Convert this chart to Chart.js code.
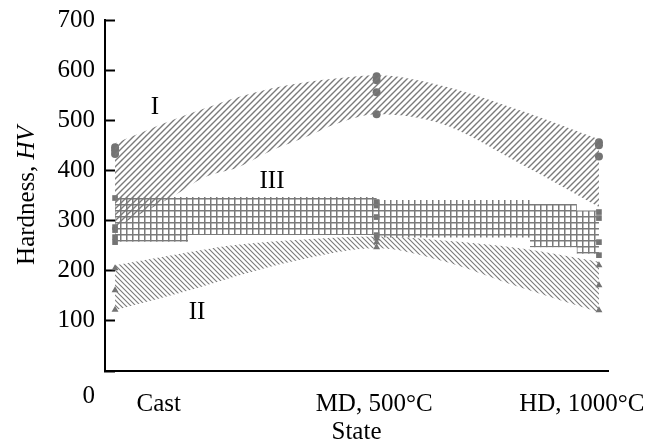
<!DOCTYPE html>
<html>
<head>
<meta charset="utf-8">
<script src="https://cdn.jsdelivr.net/npm/chart.js@4.4.0/dist/chart.umd.min.js"></script>
<style>
html,body{margin:0;padding:0;background:#fff}
#wrap{width:661px;height:447px}
</style>
</head>
<body>
<div id="wrap"><canvas id="myChart"></canvas></div>
<script>
// state axis runs 0..100 across the plot
const stateTicks=[10.7,53.5,94.8]
const stateLabels=['Cast','MD, 500°C','HD, 1000°C']
const statePos=[2,54,98.2]   // where the measurements sit (Cast, MD, HD)

// band I (upper region)
const bandIx=[2,13.3,19.9,26.4,33.2,39.8,46.3,54,66.6,82.5,98.2]
const bandIup=[454,500,524,546,564,576,584,590,570,520,462]
const bandIlo=[287,347,387,406,440,466,494,512,494,414,327]

// band II (lower region)
const bandIIx=[2,18.9,25.4,38.8,54,66.6,82.5,98.2]
const bandIIup=[211,241,251,262,268,261,245,218]
const bandIIlo=[121,167,187,222,245,221,167,117]

// band III (stepped middle region)
const bandIIIx=[2,16.5,54,84.5,93.8,98.2]
const bandIIItop=[347,347,341,333,320,320]
const bandIIIbot=[258,271,266,247,234,234]

// measured points per state: Cast, MD, HD
const ptsI=[[446,440,433],[588,580,556,512],[456,450,428]]
const ptsII=[[205,161,122],[264,257,247],[211,171,121]]
const ptsIII=[[345,287,281,267,257],[337,330,307,271],[317,305,257,231]]

// region names
const names=['I','II','III']
const nameX=[9.9,18.3,33.2]
const nameY=[525,116,379]

const grey='#737373'
const hatchGrey='#7a7a7a'

function hatch(kind){
    let p=kind=='grid'?6:(kind=='fwd'?6:5)
    let c=document.createElement('canvas')
    c.width=p;c.height=p
    let g=c.getContext('2d')
    g.strokeStyle=hatchGrey
    g.fillStyle=hatchGrey
    if(kind=='grid'){
        g.fillRect(0,0,p,1.5)
        g.fillRect(0,0,1.5,p)
    }else if(kind=='fwd'){
        g.lineWidth=1.4
        g.beginPath()
        g.moveTo(0,p);g.lineTo(p,0)
        g.moveTo(-1,1);g.lineTo(1,-1)
        g.moveTo(p-1,p+1);g.lineTo(p+1,p-1)
        g.stroke()
    }else{
        g.lineWidth=1.1
        g.beginPath()
        g.moveTo(0,0);g.lineTo(p,p)
        g.moveTo(-1,p-1);g.lineTo(1,p+1)
        g.moveTo(p-1,-1);g.lineTo(p+1,1)
        g.stroke()
    }
    return g.createPattern(c,'repeat')
}

function xy(xs,ys){return xs.map((x,i)=>({x:x,y:ys[i]}))}
function pts(list){
    let out=[]
    list.forEach((vals,i)=>vals.forEach(v=>out.push({x:statePos[i],y:v})))
    return out
}
function edge(data,fill,bg,stepped){
    return {type:'line',data:data,fill:fill,backgroundColor:bg,borderColor:'transparent',borderWidth:0,
        pointRadius:0,cubicInterpolationMode:'monotone',stepped:stepped||false}
}
function marks(data,style){
    return {type:'scatter',data:data,pointStyle:style,pointRadius:4,backgroundColor:grey,borderColor:grey,borderWidth:0,showLine:false}
}

const serif='"Liberation Serif", "Times New Roman", serif'
Chart.defaults.font.family=serif
Chart.defaults.color='#000'

const textPlugin={
    id:'texts',
    afterDraw(chart){
        const {ctx,chartArea}=chart
        const x=chart.scales.x, y=chart.scales.y
        ctx.save()
        ctx.fillStyle='#000'
        ctx.font='25px '+serif
        ctx.textAlign='center'
        ctx.textBaseline='middle'
        names.forEach((n,i)=>ctx.fillText(n,x.getPixelForValue(nameX[i]),y.getPixelForValue(nameY[i])))
        // zero of the hardness axis sits in the row of state labels
        ctx.textAlign='right'
        ctx.fillText('0',y.right-10,x.top+25)
        // axis title with italic HV
        let a='Hardness, ', b='HV'
        ctx.font='25px '+serif
        let wa=ctx.measureText(a).width
        ctx.font='italic 25px '+serif
        let wb=ctx.measureText(b).width
        ctx.translate(27,(chartArea.top+chartArea.bottom)/2)
        ctx.rotate(-Math.PI/2)
        ctx.textAlign='left'
        ctx.font='25px '+serif
        ctx.fillText(a,-(wa+wb)/2,0)
        ctx.font='italic 25px '+serif
        ctx.fillText(b,-(wa+wb)/2+wa,0)
        ctx.restore()
    }
}

const ctx=document.getElementById('myChart')
let chart=new Chart(ctx,{
    type:'line',
    data:{datasets:[
        edge(xy(bandIx,bandIlo),false,'transparent'),
        edge(xy(bandIx,bandIup),'-1',hatch('fwd')),
        edge(xy(bandIIx,bandIIlo),false,'transparent'),
        edge(xy(bandIIx,bandIIup),'-1',hatch('back')),
        edge(xy(bandIIIx,bandIIIbot),false,'transparent',true),
        edge(xy(bandIIIx,bandIIItop),'-1',hatch('grid'),true),
        marks(pts(ptsI),'circle'),
        marks(pts(ptsII),'triangle'),
        marks(pts(ptsIII),'rect')
    ]},
    options:{
        responsive:true,
        maintainAspectRatio:false,
        animation:false,
        layout:{padding:{left:10,right:53,top:20,bottom:0}},
        plugins:{legend:{display:false},tooltip:{enabled:false}},
        scales:{
            x:{
                type:'linear',min:0,max:100,
                afterBuildTicks:s=>{s.ticks=stateTicks.map(v=>({value:v}))},
                afterFit:s=>{s.height=76},
                ticks:{callback:(v,i)=>stateLabels[i],autoSkip:false,maxRotation:0,padding:10,font:{size:25},color:'#000'},
                grid:{display:false},
                border:{display:true,color:'#000',width:2},
                title:{display:true,text:'State',font:{size:25},color:'#000',padding:0}
            },
            y:{
                min:0,max:700,
                afterFit:s=>{s.width=95;s.paddingTop=0;s.paddingBottom=0},
                ticks:{stepSize:100,callback:v=>v===0?'':v,padding:20,font:{size:25},color:'#000'},
                grid:{drawOnChartArea:false,tickLength:-10,tickWidth:2,tickColor:'#000'},
                border:{display:true,color:'#000',width:2}
            }
        }
    },
    plugins:[textPlugin]
})
</script>
</body>
</html>
